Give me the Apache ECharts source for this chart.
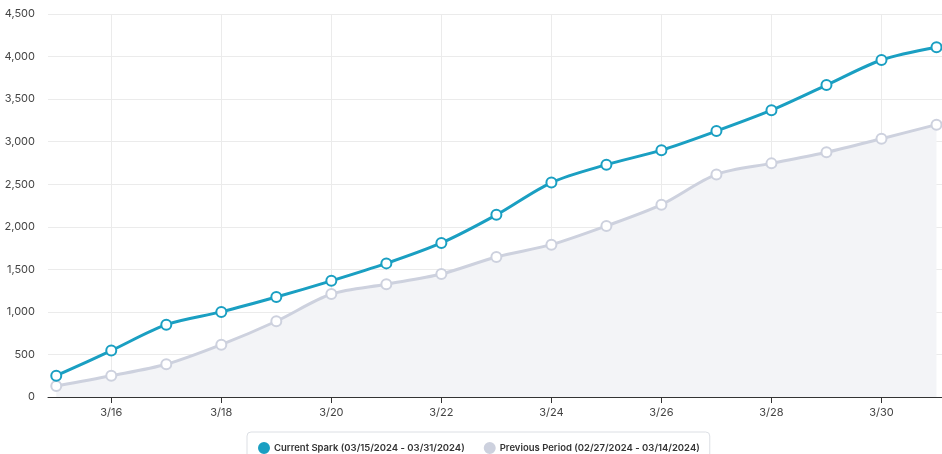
<!DOCTYPE html>
<html>
<head>
<meta charset="utf-8">
<script src="https://cdn.jsdelivr.net/npm/echarts@6/dist/echarts.min.js"></script>
<style>
  html, body { margin: 0; padding: 0; background: #fff; }
  #chart { width: 942px; height: 454px; }
</style>
</head>
<body>
<div id="chart"></div>
<script>
// dates 3/15 - 3/31
const days = ['3/15', '3/16', '3/17', '3/18', '3/19', '3/20', '3/21', '3/22', '3/23',
  '3/24', '3/25', '3/26', '3/27', '3/28', '3/29', '3/30', '3/31']
const currentSpark = [250, 545, 850, 1000, 1175, 1365, 1570, 1810, 2140,
  2520, 2730, 2900, 3125, 3370, 3665, 3960, 4110]
const previousPeriod = [130, 250, 385, 615, 890, 1210, 1325, 1445, 1645,
  1790, 2010, 2260, 2615, 2745, 2875, 3035, 3200]
const labelIdx = [1, 3, 5, 7, 9, 11, 13, 15]
const currentName = 'Current Spark (03/15/2024 - 03/31/2024)'
const previousName = 'Previous Period (02/27/2024 - 03/14/2024)'

let chart = echarts.init(document.getElementById('chart'))
chart.setOption({
  animation: false,
  textStyle: { fontFamily: 'Inter' },
  grid: { left: 48, right: 0, top: 14, bottom: 57 },
  legend: {
    top: 432,
    left: 247,
    padding: [10, 10, 14, 11],
    itemGap: 19,
    itemWidth: 10,
    itemHeight: 10,
    icon: 'circle',
    borderColor: '#dcdfe4',
    borderWidth: 1,
    borderRadius: 4,
    textStyle: { fontSize: 9.5, fontWeight: 600, color: '#333', fontFamily: 'Inter' },
    data: [
      { name: currentName, itemStyle: { color: '#1a9fc2' } },
      { name: previousName, itemStyle: { color: '#cdd1de' } }
    ]
  },
  xAxis: {
    type: 'value',
    min: -0.15,
    max: 16.1,
    axisLine: { lineStyle: { color: '#333', width: 1 } },
    axisTick: { customValues: labelIdx, length: 6, lineStyle: { color: '#333' } },
    axisLabel: {
      customValues: labelIdx,
      formatter: v => days[Math.round(v)],
      color: '#444',
      fontSize: 11,
      margin: 10
    },
    splitLine: { show: true, lineStyle: { color: '#ebebeb' } }
  },
  yAxis: {
    type: 'value',
    min: 0,
    max: 4500,
    interval: 500,
    axisLine: { show: false },
    axisTick: { show: false },
    axisLabel: {
      color: '#444',
      fontSize: 11,
      margin: 13,
      formatter: v => v.toLocaleString('en-US')
    },
    splitLine: { lineStyle: { color: '#ebebeb' } }
  },
  series: [
    {
      name: previousName,
      type: 'line',
      smooth: 0.3,
      data: previousPeriod.map((v, i) => [i, v]),
      symbol: 'circle',
      symbolSize: 10,
      itemStyle: { color: '#fff', borderColor: '#cdd1de', borderWidth: 2 },
      lineStyle: { color: '#cdd1de', width: 3 },
      areaStyle: { color: '#f3f4f7', opacity: 1 },
      z: 2
    },
    {
      name: currentName,
      type: 'line',
      smooth: 0.3,
      data: currentSpark.map((v, i) => [i, v]),
      symbol: 'circle',
      symbolSize: 10,
      itemStyle: { color: '#fff', borderColor: '#1a9fc2', borderWidth: 2 },
      lineStyle: { color: '#1a9fc2', width: 3 },
      z: 3
    }
  ]
})
</script>
</body>
</html>
